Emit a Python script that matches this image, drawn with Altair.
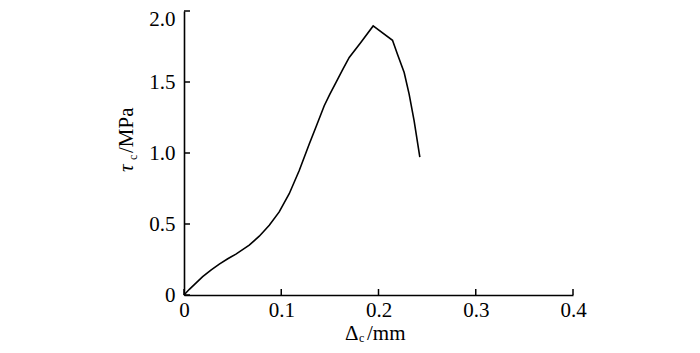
import altair as alt
import pandas as pd

# Data
disp = [0.0, 0.0055, 0.0192, 0.0280, 0.0363, 0.0450, 0.0534, 0.0671, 0.0774,
        0.0877, 0.0979, 0.1082, 0.1185, 0.1288, 0.1356, 0.1442, 0.1500,
        0.1562, 0.1630, 0.1699, 0.1818, 0.1945, 0.2144, 0.2195, 0.2264,
        0.2315, 0.2366, 0.2425]
stress = [0.0, 0.040, 0.129, 0.177, 0.218, 0.255, 0.288, 0.351, 0.414,
          0.491, 0.585, 0.713, 0.877, 1.064, 1.181, 1.333, 1.415,
          1.495, 1.585, 1.673, 1.778, 1.895, 1.794, 1.696, 1.567,
          1.415, 1.228, 0.971]
x_ticks = [0.0, 0.1, 0.2, 0.3, 0.4]
y_ticks = [0.0, 0.5, 1.0, 1.5, 2.0]

W, H = 389, 284
FONT = "Times New Roman, Liberation Serif, serif"
FS = 21

df = pd.DataFrame({"d": disp, "t": stress, "o": list(range(len(disp)))})
xs = alt.Scale(domain=[0, 0.4], nice=False, zero=False)
ys = alt.Scale(domain=[0, 2.0], nice=False, zero=False)

lab_expr = "datum.value == 0 ? '0' : format(datum.value, '.1f')"

line = alt.Chart(df).mark_line(color="black", strokeWidth=1.6).encode(
    x=alt.X("d:Q", scale=xs, axis=alt.Axis(
        values=x_ticks, title=None, tickSize=0, labelPadding=4,
        labelExpr=lab_expr, labelFont=FONT, labelFontSize=FS, labelColor="black",
        domainColor="black", domainWidth=1.6, grid=False, labelFlush=False)),
    y=alt.Y("t:Q", scale=ys, axis=alt.Axis(
        values=y_ticks, title=None, tickSize=0, labelPadding=9,
        labelExpr=lab_expr, labelFont=FONT, labelFontSize=FS, labelColor="black",
        labelOffset={"condition": {"test": "datum.value == 2", "value": 8}, "value": 0},
        domainColor="black", domainWidth=1.6, grid=False, labelFlush=False)),
    order="o:Q",
)

xt = alt.Chart(pd.DataFrame({"v": x_ticks})).mark_rule(color="black", strokeWidth=1.5).encode(
    x=alt.X("v:Q", scale=xs), y=alt.value(H), y2=alt.value(H - 6))
yt = alt.Chart(pd.DataFrame({"v": y_ticks})).mark_rule(color="black", strokeWidth=1.5).encode(
    y=alt.Y("v:Q", scale=ys), x=alt.value(0), x2=alt.value(6))

one = pd.DataFrame({"a": [0]})

def txt(s, x, y, size=FS, style="normal", angle=0):
    return alt.Chart(one).mark_text(
        text=s, font=FONT, fontSize=size, fontStyle=style, color="black",
        align="left", baseline="alphabetic", angle=angle,
    ).encode(x=alt.value(x), y=alt.value(y))

titles = [
    txt("Δ", 161, 329),
    txt("c", 175, 331, size=12),
    txt("/mm", 183, 329),
    txt("τ", -51, 161, style="italic", angle=270),
    txt("c", -47, 149, size=12, angle=270),
    txt("/MPa", -51, 142, angle=270),
]

chart = alt.layer(line, xt, yt, *titles).properties(
    width=W, height=H,
    autosize=alt.AutoSizeParams(type="none"),
    padding={"left": 176, "top": 3, "right": 119, "bottom": 50},
    view=alt.ViewBackground(stroke="transparent", strokeOpacity=0, strokeWidth=0),
).configure_view(stroke="transparent", strokeOpacity=0, strokeWidth=0).configure(background="white")

chart.save("out.html", embed_options={"renderer": "svg", "actions": False})
